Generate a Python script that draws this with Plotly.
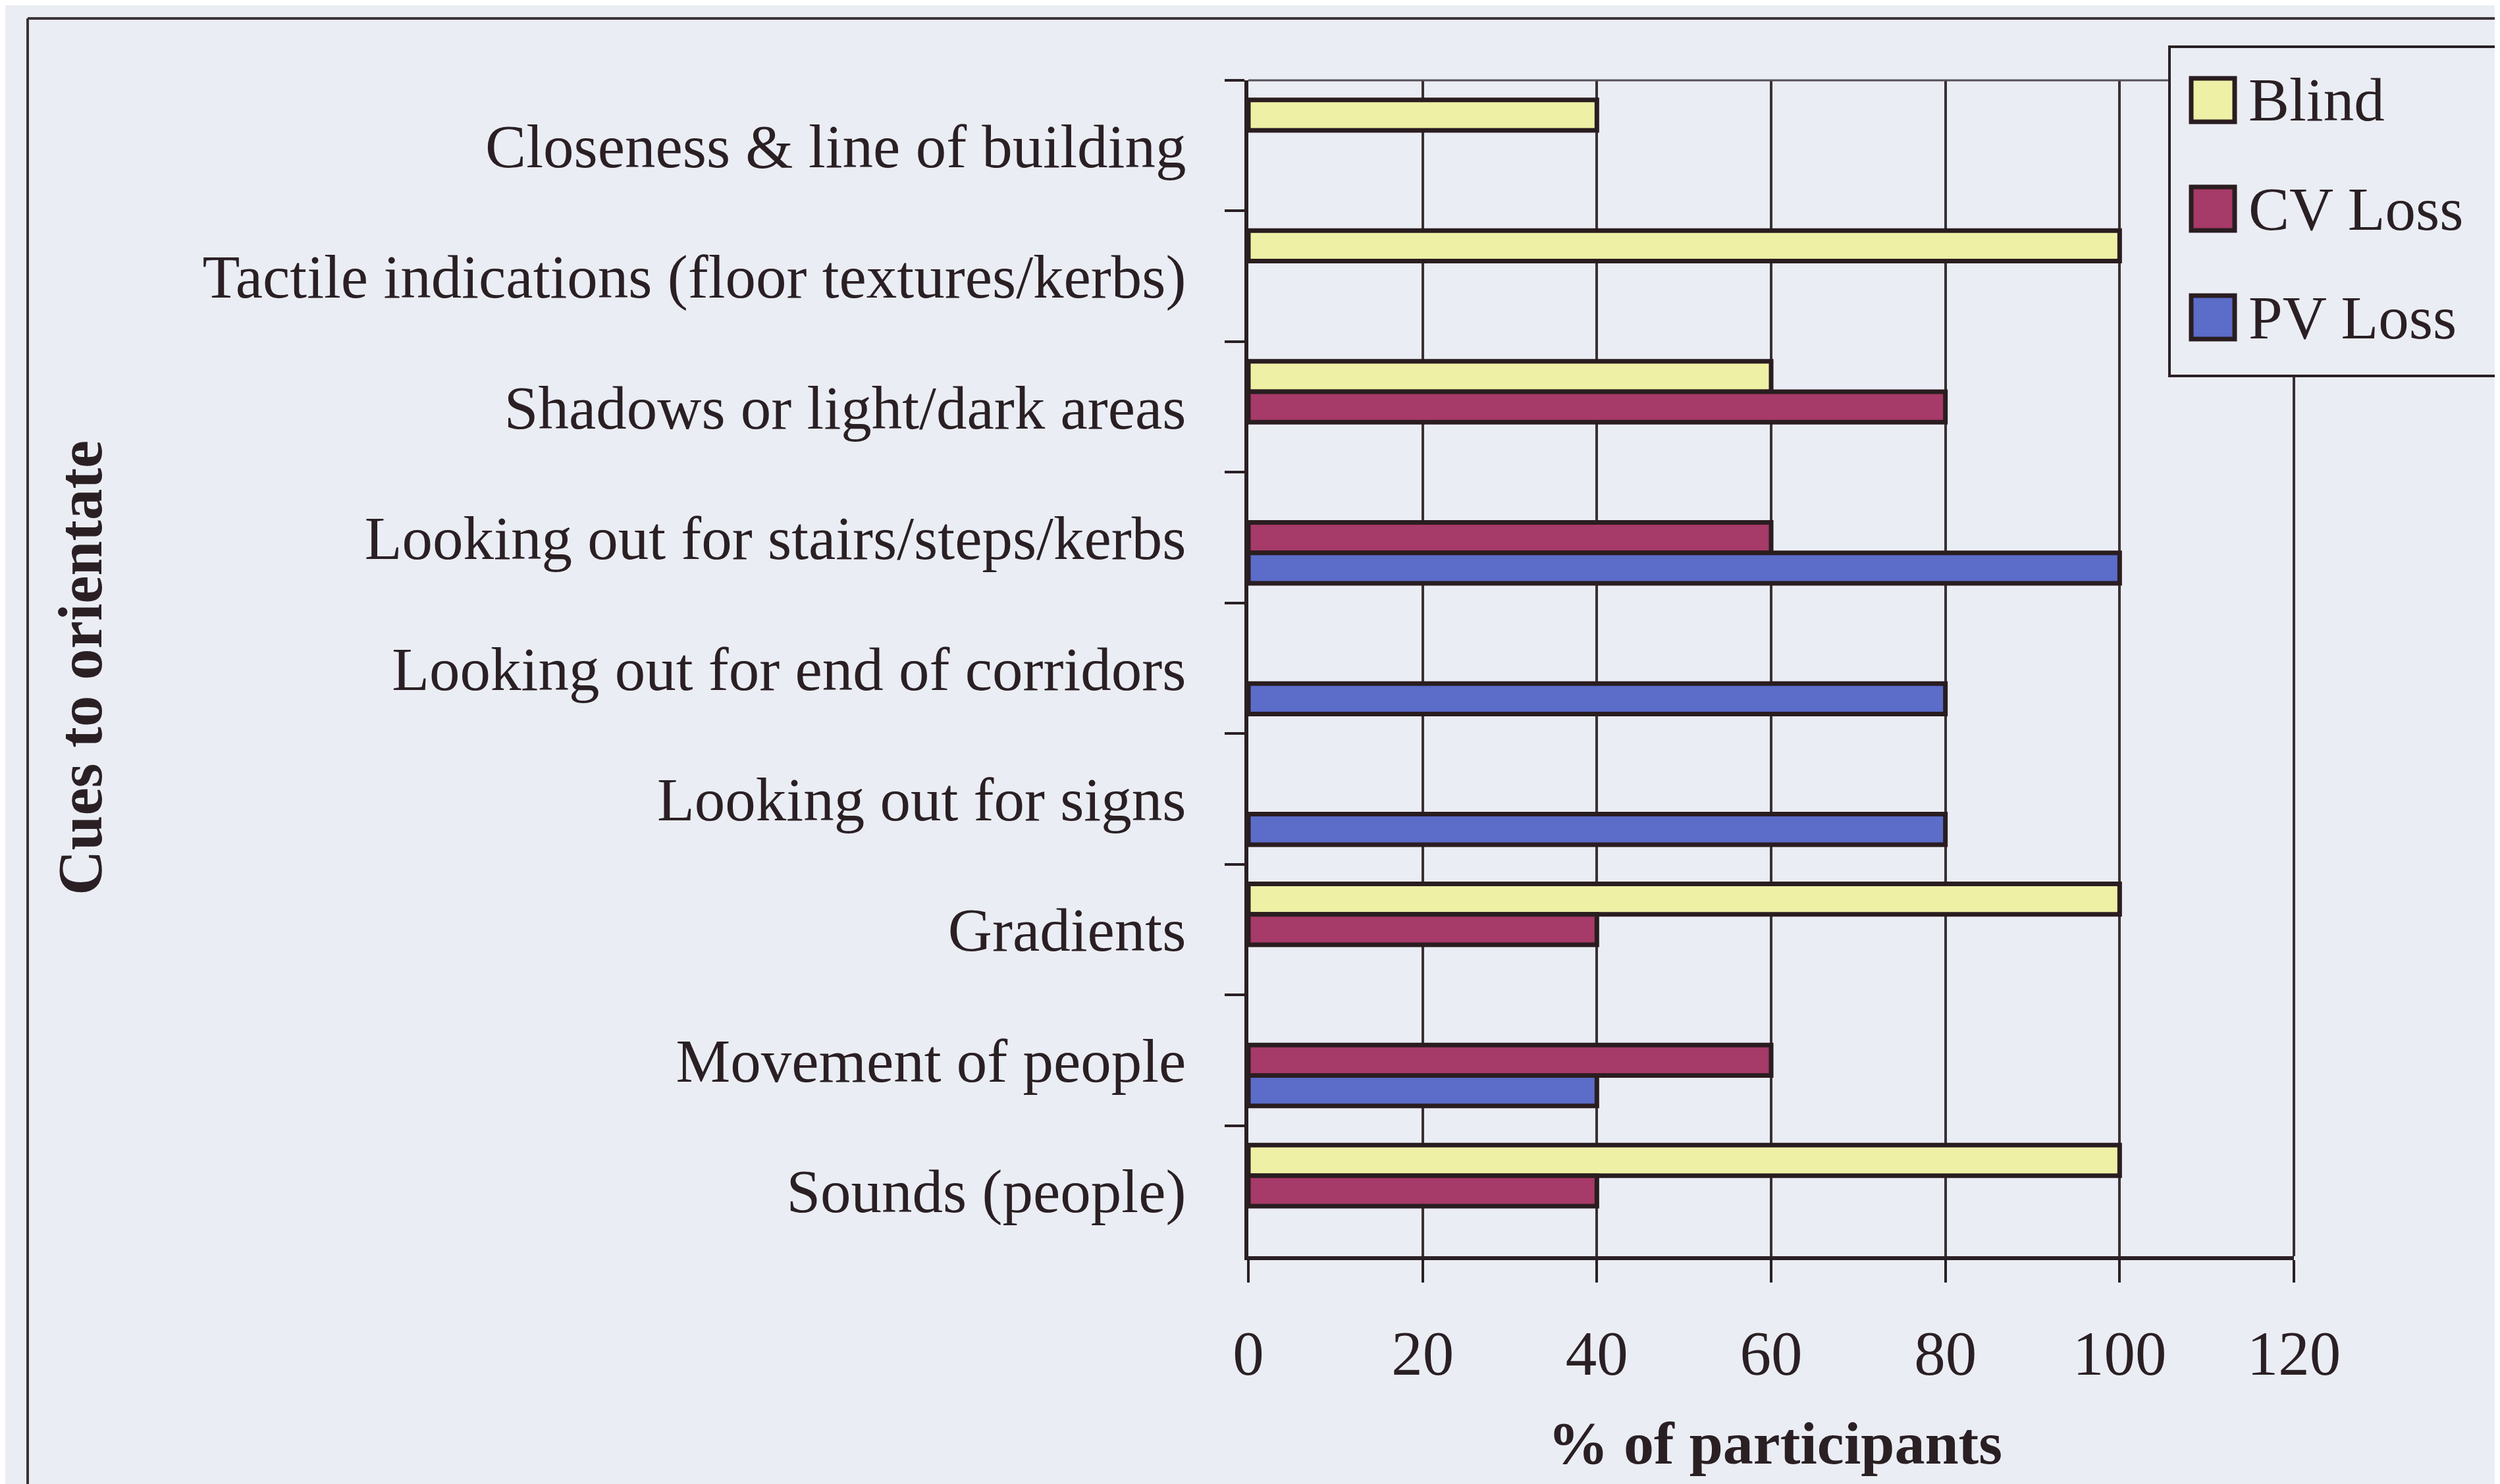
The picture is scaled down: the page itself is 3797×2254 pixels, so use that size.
import plotly.graph_objects as go

# ---- data ----
categories = [
    "Closeness & line of building",
    "Tactile indications (floor textures/kerbs)",
    "Shadows or light/dark areas",
    "Looking out for stairs/steps/kerbs",
    "Looking out for end of corridors",
    "Looking out for signs",
    "Gradients",
    "Movement of people",
    "Sounds (people)",
]
series_names = ["Blind", "CV Loss", "PV Loss"]
blind = [40, 100, 60, None, None, None, 100, None, 100]
cv_loss = [None, None, 80, 60, None, None, 40, 60, 40]
pv_loss = [None, None, None, 100, 80, 80, None, 40, None]
x_ticks = [0, 20, 40, 60, 80, 100, 120]
x_title = "% of participants"
y_title = "Cues to orientate"

# ---- style ----
colors = ["#EEF0A6", "#A63A68", "#5B6CC9"]
outline = "#2A1D20"
bg = "#EBEDF4"
ink = "#2A2024"
FONT = "Liberation Serif"

W, H = 3797, 2254
L, R, T, B = 1888, 321, 114, 354
PW, PH = W - L - R, H - T - B


def px(xp):
    return (xp - L) / PW


def py(yp):
    return (H - B - yp) / PH


fig = go.Figure()
for name, vals, col in zip(series_names, [blind, cv_loss, pv_loss], colors):
    fig.add_trace(go.Bar(
        y=categories, x=vals, name=name, orientation="h",
        marker=dict(color=col, line=dict(color=outline, width=7)),
        showlegend=False,
    ))

fig.update_layout(
    width=W, height=H,
    margin=dict(l=L, r=R, t=T, b=B, autoexpand=False),
    paper_bgcolor=bg, plot_bgcolor=bg,
    barmode="group", bargap=0.30, bargroupgap=0,
    font=dict(family=FONT, size=93, color=ink),
)
fig.update_xaxes(
    range=[0, 120], tickvals=x_ticks, ticktext=[str(v) for v in x_ticks],
    showgrid=True, gridcolor="#3A3034", gridwidth=4,
    showline=True, linecolor=ink, linewidth=6,
    ticks="outside", ticklen=34, tickwidth=4, tickcolor=ink,
    ticklabelstandoff=26, zeroline=False,
    tickfont=dict(family=FONT, size=95, color=ink),
)
fig.update_yaxes(
    type="category", autorange="reversed",
    showgrid=False, showline=True, linecolor=ink, linewidth=6,
    ticks="outside", ticklen=30, tickwidth=4, tickcolor=ink,
    tickson="boundaries", ticklabelstandoff=70,
    tickfont=dict(family=FONT, size=93, color=ink),
)

shapes = []
# plot-area top border and right border
shapes.append(dict(type="line", xref="paper", yref="paper", x0=0, x1=1, y0=1, y1=1,
                   line=dict(color="#555055", width=3)))
shapes.append(dict(type="line", xref="paper", yref="paper", x0=1, x1=1, y0=0, y1=1,
                   line=dict(color="#3A3034", width=4)))
# outer frame lines (top and left)
shapes.append(dict(type="line", xref="paper", yref="paper", x0=px(34), x1=px(W), y0=py(20), y1=py(20),
                   line=dict(color="#3A3438", width=4)))
shapes.append(dict(type="line", xref="paper", yref="paper", x0=px(34), x1=px(34), y0=py(20), y1=py(H),
                   line=dict(color="#3A3438", width=4)))
# legend box
shapes.append(dict(type="rect", xref="paper", yref="paper", x0=px(3287), x1=px(3788), y0=py(63), y1=py(563),
                   line=dict(color=ink, width=4), fillcolor=bg))
annotations = []
legend_y = [144, 309, 474]
for name, col, ly in zip(series_names, colors, legend_y):
    shapes.append(dict(type="rect", xref="paper", yref="paper",
                       x0=px(3320), x1=px(3386), y0=py(ly - 33), y1=py(ly + 33),
                       line=dict(color=outline, width=7), fillcolor=col))
    annotations.append(dict(xref="paper", yref="paper", x=px(3405), y=py(ly), text=name,
                            showarrow=False, xanchor="left", yanchor="middle",
                            font=dict(family=FONT, size=93, color=ink)))
# axis titles
annotations.append(dict(xref="paper", yref="paper", x=px(2688), y=py(2184), text="<b>%s</b>" % x_title,
                        showarrow=False, xanchor="center", yanchor="middle",
                        font=dict(family=FONT, size=92, color=ink)))
annotations.append(dict(xref="paper", yref="paper", x=px(114), y=py(1007), text="<b>%s</b>" % y_title,
                        showarrow=False, xanchor="center", yanchor="middle", textangle=-90,
                        font=dict(family=FONT, size=95, color=ink)))
fig.update_layout(shapes=shapes, annotations=annotations)

fig.write_html("out.html")
